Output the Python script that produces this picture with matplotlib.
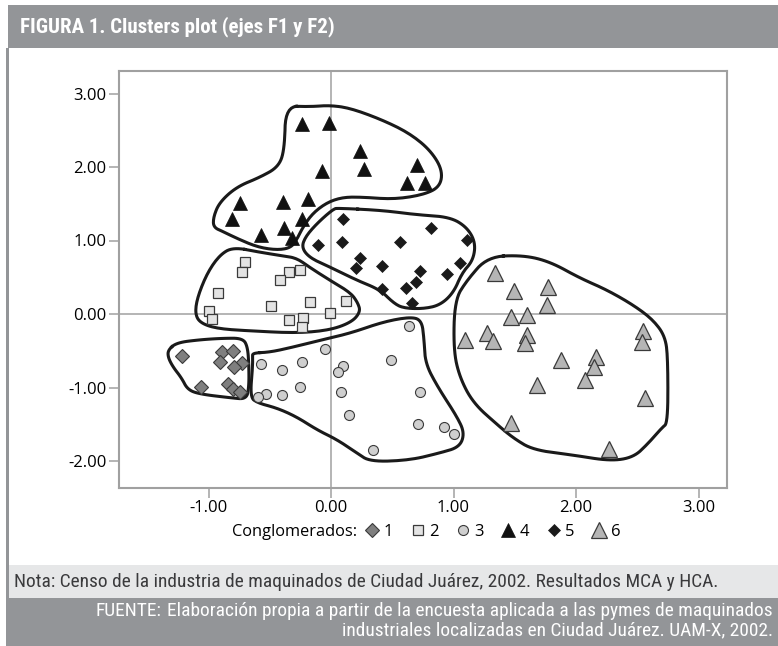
import numpy as np
import matplotlib
matplotlib.use('Agg')
import matplotlib.pyplot as plt
from matplotlib.patches import Rectangle
from matplotlib.lines import Line2D
import logging
logging.getLogger('matplotlib.font_manager').setLevel(logging.ERROR)

# ---------------- data (F1, F2 scores per cluster) ----------------
c1_x = [-1.22, -0.89, -0.80, -0.91, -0.73, -0.79, -1.06, -0.84, -0.80, -0.74]
c1_y = [-0.57, -0.52, -0.50, -0.65, -0.67, -0.72, -0.99, -0.95, -1.02, -1.06]

c2_x = [-0.70, -0.73, -0.34, -0.25, -0.42, -0.92, -0.49, -0.17, 0.12, -1.00, -0.97, -0.34, -0.23, -0.24, -0.01]
c2_y = [0.71, 0.57, 0.57, 0.60, 0.46, 0.29, 0.11, 0.16, 0.18, 0.04, -0.07, -0.08, -0.05, -0.18, 0.01]

c3_x = [-0.57, -0.40, -0.24, -0.05, 0.10, 0.06, 0.49, 0.64, -0.53, -0.60, -0.40, -0.25, 0.08, 0.73, 0.15, 0.71, 0.92, 1.00, 0.34]
c3_y = [-0.68, -0.76, -0.65, -0.48, -0.71, -0.79, -0.63, -0.16, -1.09, -1.13, -1.10, -0.99, -1.06, -1.06, -1.37, -1.50, -1.54, -1.63, -1.85]

c4_x = [-0.24, -0.02, 0.24, 0.27, 0.70, 0.62, 0.77, -0.07, -0.74, -0.39, -0.19, -0.81, -0.57, -0.38, -0.24, -0.32]
c4_y = [2.59, 2.60, 2.22, 1.97, 2.03, 1.78, 1.78, 1.95, 1.51, 1.52, 1.56, 1.29, 1.07, 1.17, 1.29, 1.03]

c5_x = [0.10, 0.82, -0.11, 0.09, 0.56, 1.11, 0.24, 0.20, 0.42, 0.73, 1.05, 0.95, 0.69, 0.61, 0.42, 0.66]
c5_y = [1.29, 1.17, 0.94, 0.98, 0.98, 1.01, 0.76, 0.63, 0.65, 0.59, 0.69, 0.54, 0.44, 0.35, 0.34, 0.15]

c6_x = [1.34, 1.49, 1.77, 1.76, 1.47, 1.60, 1.09, 1.27, 1.32, 1.60, 1.58, 2.55, 2.54, 1.88, 2.16, 2.15, 2.07, 1.68, 2.56, 1.47, 2.27]
c6_y = [0.56, 0.31, 0.37, 0.12, -0.04, -0.01, -0.35, -0.26, -0.37, -0.29, -0.39, -0.23, -0.38, -0.63, -0.59, -0.72, -0.90, -0.97, -1.14, -1.48, -1.84]

cluster_labels = ['1', '2', '3', '4', '5', '6']
x_ticks = [-1, 0, 1, 2, 3]
y_ticks = [-2, -1, 0, 1, 2, 3]

# hand-drawn cluster outlines (data units)
outline1 = [(-1.33, -0.49), (-1.26, -0.39), (-1.07, -0.35), (-0.88, -0.33), (-0.72, -0.33), (-0.68, -0.45),
            (-0.67, -0.72), (-0.67, -0.99), (-0.69, -1.16), (-0.82, -1.14), (-1.07, -1.09), (-1.17, -1.03),
            (-1.22, -0.87), (-1.29, -0.72), (-1.33, -0.59)]
outline2 = [(-0.80, 0.91), (-0.58, 0.84), (-0.39, 0.79), (-0.28, 0.76), (-0.17, 0.63), (-0.01, 0.46),
            (0.16, 0.29), (0.22, 0.15), (0.24, 0.03), (0.17, -0.11), (-0.01, -0.22), (-0.28, -0.26),
            (-0.66, -0.23), (-0.93, -0.20), (-1.07, -0.12), (-1.11, 0.01), (-1.09, 0.23), (-1.01, 0.56),
            (-0.91, 0.80)]
outline3 = [(-0.64, -0.53), (-0.50, -0.52), (-0.31, -0.45), (-0.07, -0.35), (0.16, -0.26), (0.42, -0.11),
            (0.64, -0.04), (0.74, -0.08), (0.76, -0.35), (0.77, -0.67), (0.87, -0.99), (1.03, -1.40),
            (1.09, -1.62), (1.05, -1.81), (0.89, -1.89), (0.64, -1.99), (0.32, -2.01), (0.21, -1.89),
            (0.05, -1.71), (-0.11, -1.58), (-0.28, -1.40), (-0.44, -1.28), (-0.60, -1.21), (-0.66, -1.13),
            (-0.64, -0.72), (-0.64, -0.59)]
outline4 = [(-0.37, 2.83), (-0.17, 2.82), (-0.01, 2.84), (0.16, 2.80), (0.42, 2.64), (0.64, 2.46),
            (0.81, 2.23), (0.91, 1.96), (0.89, 1.73), (0.75, 1.62), (0.51, 1.56), (0.26, 1.59),
            (0.10, 1.59), (-0.03, 1.52), (-0.15, 1.37), (-0.23, 1.18), (-0.28, 1.01), (-0.33, 0.90),
            (-0.44, 0.87), (-0.60, 0.91), (-0.77, 1.03), (-0.88, 1.12), (-0.96, 1.18), (-0.96, 1.32),
            (-0.91, 1.52), (-0.77, 1.73), (-0.58, 1.86), (-0.43, 2.00), (-0.38, 2.23)]
outline5 = [(0.06, 1.44), (0.42, 1.41), (0.70, 1.35), (0.97, 1.32), (1.11, 1.18), (1.18, 0.97),
            (1.16, 0.73), (1.07, 0.56), (1.00, 0.29), (0.89, 0.12), (0.75, 0.07), (0.59, 0.08),
            (0.51, 0.15), (0.40, 0.33), (0.21, 0.46), (-0.01, 0.64), (-0.17, 0.76), (-0.24, 0.90),
            (-0.21, 1.05), (-0.11, 1.24), (0.02, 1.43)]
outline6 = [(1.28, 0.78), (1.57, 0.80), (1.79, 0.71), (2.03, 0.49), (2.25, 0.33), (2.47, 0.12),
            (2.63, -0.08), (2.73, -0.31), (2.75, -0.63), (2.75, -1.48), (2.70, -1.55), (2.59, -1.76),
            (2.47, -1.95), (2.28, -2.00), (1.98, -1.92), (1.65, -1.85), (1.49, -1.69), (1.36, -1.51),
            (1.16, -1.21), (1.05, -0.86), (1.00, -0.49), (1.01, 0.19), (1.11, 0.46)]


def chaikin(pts, n=2):
    p = np.asarray(pts, float)
    for _ in range(n):
        q = np.roll(p, -1, axis=0)
        a = 0.75 * p + 0.25 * q
        b = 0.25 * p + 0.75 * q
        p = np.empty((2 * len(a), 2))
        p[0::2] = a
        p[1::2] = b
    return np.vstack([p, p[:1]])


# ---------------- figure ----------------
W, H = 778, 646
fig = plt.figure(figsize=(W / 100, H / 100), dpi=100)
fig.patch.set_facecolor('white')

band_dark = '#939598'
band_light = '#e6e7e8'
narrow = ['Liberation Sans Narrow', 'Roboto Condensed', 'DejaVu Sans Condensed', 'DejaVu Sans']
body = ['Open Sans', 'DejaVu Sans']


def fit(t, target_px):
    r = fig.canvas.get_renderer()
    w = t.get_window_extent(r).width
    t.set_fontsize(t.get_fontsize() * target_px / w)


# title bar
fig.patches.append(Rectangle((8 / W, 1 - 48 / H), 1 - 8 / W, 43 / H, transform=fig.transFigure,
                             facecolor=band_dark, edgecolor='none', zorder=0))
t_title = fig.text(20 / W, 1 - 27 / H, 'FIGURA 1. Clusters plot (ejes F1 y F2)', color='white',
                   fontsize=13.5, fontweight='bold', family=narrow, fontstretch='condensed',
                   va='center', ha='left')
# left border
fig.patches.append(Rectangle((6 / W, 1 - 598 / H), 3 / W, 550 / H, transform=fig.transFigure,
                             facecolor=band_dark, edgecolor='none', zorder=0))
# nota band
fig.patches.append(Rectangle((9 / W, 1 - 598 / H), 1 - 9 / W, 33 / H, transform=fig.transFigure,
                             facecolor=band_light, edgecolor='none', zorder=0))
t_nota = fig.text(14 / W, 1 - 582 / H,
                  'Nota: Censo de la industria de maquinados de Ciudad Juárez, 2002. Resultados MCA y HCA.',
                  color='#3a3a3c', fontsize=12.5, family=narrow, fontstretch='condensed',
                  va='center', ha='left')
# fuente band
fig.patches.append(Rectangle((6 / W, 0), 1 - 6 / W, 48 / H, transform=fig.transFigure,
                             facecolor=band_dark, edgecolor='none', zorder=0))
t_f1 = fig.text(773 / W, 1 - 611 / H,
                'Elaboración propia a partir de la encuesta aplicada a las pymes de maquinados',
                color='white', fontsize=12.5, family=narrow, fontstretch='condensed',
                va='center', ha='right')
t_fl = fig.text(161 / W, 1 - 611 / H, 'FUENTE:', color='white', fontsize=9.5, family=narrow,
                fontstretch='condensed', va='center', ha='right')
t_f2 = fig.text(773 / W, 1 - 630 / H,
                'industriales localizadas en Ciudad Juárez. UAM-X, 2002.',
                color='white', fontsize=12.5, family=narrow, fontstretch='condensed',
                va='center', ha='right')

# axes
x0, x1, y0, y1 = 119, 727, 71, 488
ax = fig.add_axes([x0 / W, 1 - y1 / H, (x1 - x0) / W, (y1 - y0) / H])
ax.set_xlim((x0 - 331) / 122.5, (x1 - 331) / 122.5)
ax.set_ylim((314 - y1) / 73.5, (314 - y0) / 73.5)
ax.set_facecolor('white')
gray = '#a0a0a0'
for s in ax.spines.values():
    s.set_color(gray)
    s.set_linewidth(1.5)
ax.axhline(0, color=gray, lw=1.1, zorder=1)
ax.axvline(0, color=gray, lw=1.1, zorder=1)
ax.set_xticks(x_ticks)
ax.set_yticks(y_ticks)
ax.set_xticklabels(['%.2f' % v for v in x_ticks], family=body, fontsize=12)
ax.set_yticklabels(['%.2f' % v for v in y_ticks], family=body, fontsize=12)
ax.tick_params(direction='out', length=7, width=1.1, color=gray, pad=2)

for ol in [outline1, outline2, outline3, outline4, outline5, outline6]:
    p = chaikin(ol, 3)
    ax.plot(p[:, 0], p[:, 1], color='#1a1a1a', lw=2.2, solid_joinstyle='round', zorder=2)

edge = '#3a3a3a'
styles = [
    dict(marker='D', ms=6.8, mfc='#7f7f7f', mec=edge, mew=0.8),
    dict(marker='s', ms=6.8, mfc='#e4e4e4', mec=edge, mew=0.9),
    dict(marker='o', ms=7.2, mfc='#cfcfcf', mec=edge, mew=0.8),
    dict(marker='^', ms=9.5, mfc='#111111', mec='#111111', mew=0.5),
    dict(marker='D', ms=6.0, mfc='#1a1a1a', mec='#1a1a1a', mew=0.5),
    dict(marker='^', ms=11.5, mfc='#b5b5b5', mec=edge, mew=0.9),
]
series = [(c1_x, c1_y), (c2_x, c2_y), (c3_x, c3_y), (c4_x, c4_y), (c5_x, c5_y), (c6_x, c6_y)]
handles = []
for (xs, ys), st, lab in zip(series, styles, cluster_labels):
    ax.plot(xs, ys, ls='none', zorder=3, **st)
    handles.append(Line2D([], [], ls='none', **st))

t_cong = fig.text(357 / W, 1 - 532 / H, 'Conglomerados:', family=body, fontsize=12, ha='right', va='center')
leg = ax.legend(handles, cluster_labels, ncol=6, loc='center left',
                bbox_to_anchor=((364 - x0) / (x1 - x0), (y1 - 532) / (y1 - y0)),
                frameon=False, handlelength=1.0, handletextpad=0.2, columnspacing=0.95,
                prop={'family': body, 'size': 12}, borderaxespad=0, borderpad=0)

fit(t_title, 316)
fit(t_nota, 708)
fit(t_f1, 605)
t_f2.set_fontsize(t_f1.get_fontsize())
fit(t_fl, 66)
fit(t_cong, 125)

fig.savefig('out.png', dpi=100)
